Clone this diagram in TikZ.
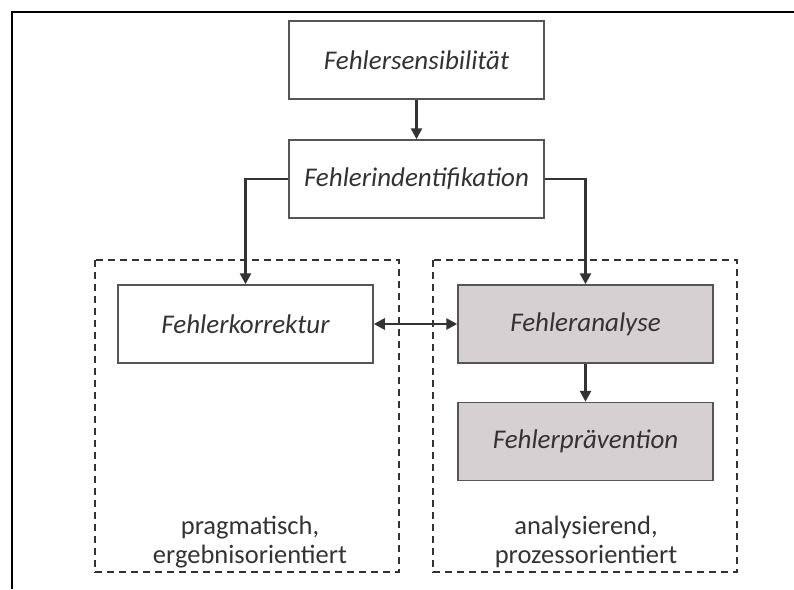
\documentclass[tikz,border=0pt]{standalone}
\usepackage{fontspec}
\setmainfont{Carlito}
\usetikzlibrary{arrows.meta}
\definecolor{txt}{HTML}{333333}
\definecolor{boxline}{HTML}{555555}
\definecolor{shade}{RGB}{214,208,210}
\tikzset{
  plainbox/.style={draw=boxline, line width=1.5pt, fill=white, font=\fontsize{27}{30}\selectfont\itshape, text=txt, inner sep=0pt},
  shadebox/.style={plainbox, fill=shade},
  group/.style={draw=txt, dashed, dash pattern=on 7pt off 5pt, line width=2pt},
  conn/.style={draw=txt, line width=2.6pt, -{Triangle[length=11pt,width=11pt]}},
  note/.style={font=\fontsize{26.5}{29}\selectfont, text=txt, align=center, inner sep=0pt},
}
\begin{document}
\begin{tikzpicture}[x=1pt,y=-1pt]
\useasboundingbox (0,0) rectangle (794,589);
\coordinate (ftr) at (794,12);
\coordinate (ftl) at (12,12);
\coordinate (fbl) at (12,589);
\draw[line width=2pt, black] (ftr) -- (ftl) -- (fbl);
% dashed groups
\draw[group] (95,260) rectangle (399,572);
\draw[group] (433,260) rectangle (737,572);
% boxes
\node[plainbox, minimum width=255pt, minimum height=78pt] (sens) at (416.5,60) {Fehlersensibilität};
\node[plainbox, minimum width=255pt, minimum height=78pt] (ident) at (416.5,179) {Fehlerindentifikation};
\node[plainbox, minimum width=255pt, minimum height=78pt] (korr) at (245.5,324) {Fehlerkorrektur};
\node[shadebox, minimum width=255pt, minimum height=78pt] (anal) at (585.5,324) {Fehleranalyse};
\node[shadebox, minimum width=255pt, minimum height=78pt] (prav) at (585.5,441.5) {Fehlerprävention};
% notes
\node[note] (n1) at (250,542) {pragmatisch,\\ergebnisorientiert};
\node[note] (n2) at (586,542) {analysierend,\\prozessorientiert};
% connectors
\draw[conn] (sens.south) -- (ident.north);
\draw[conn] (ident.west) -| (korr.north);
\draw[conn] (ident.east) -| (anal.north);
\draw[conn] (anal.south) -- (prav.north);
\draw[conn, {Triangle[length=11pt,width=11pt]}-{Triangle[length=11pt,width=11pt]}] (korr.east) -- (anal.west);
\end{tikzpicture}
\end{document}
